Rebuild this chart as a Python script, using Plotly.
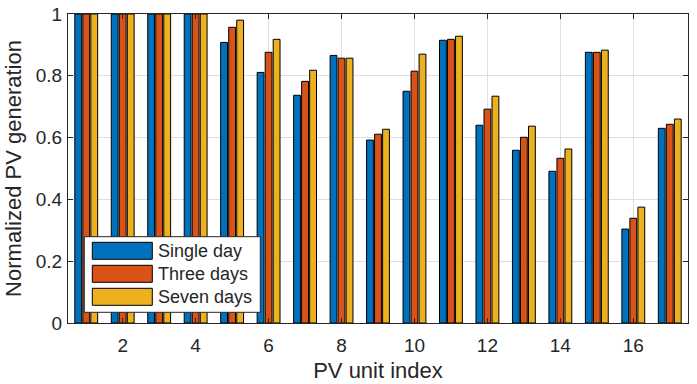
import plotly.graph_objects as go

units = list(range(1, 18))
single_day = [1.0, 1.0, 1.0, 1.0, 0.908, 0.811, 0.737, 0.866, 0.592, 0.750, 0.915, 0.640, 0.559, 0.491, 0.876, 0.304, 0.630]
three_days = [1.0, 1.0, 1.0, 1.0, 0.957, 0.876, 0.782, 0.857, 0.611, 0.815, 0.918, 0.692, 0.601, 0.533, 0.876, 0.339, 0.643]
seven_days = [1.0, 1.0, 1.0, 1.0, 0.980, 0.918, 0.818, 0.857, 0.627, 0.870, 0.928, 0.734, 0.637, 0.563, 0.883, 0.375, 0.660]
series_names = ["Single day", "Three days", "Seven days"]
colors = ["#0072BD", "#D95319", "#EDB120"]
x_ticks = [2, 4, 6, 8, 10, 12, 14, 16]
y_ticks = [0, 0.2, 0.4, 0.6, 0.8, 1]

W, H = 697, 384
L, R, T, B = 68, 9, 14, 61
pw, ph = W - L - R, H - T - B

def px(x):
    return (x - L) / pw

def py(y):
    return (H - B - y) / ph

FONT = "Liberation Sans, Arial, Helvetica, sans-serif"
fig = go.Figure()
for name, vals, c in zip(series_names, [single_day, three_days, seven_days], colors):
    fig.add_trace(go.Bar(x=units, y=vals, name=name, marker=dict(color=c, line=dict(color="black", width=1)),
                         showlegend=False))

axis_common = dict(showline=True, linecolor="#262626", linewidth=1, mirror="ticks", ticks="inside",
                   ticklen=5, tickcolor="#262626", showgrid=True, gridcolor="#dfdfdf", gridwidth=1,
                   zeroline=False, automargin=False, tickfont=dict(size=19, color="#262626", family=FONT))
fig.update_layout(
    width=W, height=H, margin=dict(l=L, r=R, t=T, b=B, pad=0),
    paper_bgcolor="white", plot_bgcolor="white",
    barmode="group", bargap=0.34, bargroupgap=0.15,
    font=dict(family=FONT, color="#262626"),
    xaxis=dict(range=[0.5, 17.5], tickvals=x_ticks, ticklabelstandoff=5,
               title=dict(text="PV unit index", font=dict(size=22), standoff=7), **axis_common),
    yaxis=dict(range=[0, 1], tickvals=y_ticks, ticktext=["0", "0.2", "0.4", "0.6", "0.8", "1"], ticklabelstandoff=1,
               title=dict(text="Normalized PV generation", font=dict(size=22), standoff=8), **axis_common),
)

# manual legend with wide swatches (MATLAB style)
shapes = [dict(type="rect", xref="paper", yref="paper", x0=px(84.3), x1=px(260.3), y0=py(312.3), y1=py(236.7),
               fillcolor="white", line=dict(color="#262626", width=1), layer="above")]
annots = []
sw_tops = [242.3, 265.3, 288.3]
for name, c, top in zip(series_names, colors, sw_tops):
    shapes.append(dict(type="rect", xref="paper", yref="paper", x0=px(92.3), x1=px(152.3), y0=py(top + 17), y1=py(top),
                       fillcolor=c, line=dict(color="black", width=1), layer="above"))
    annots.append(dict(xref="paper", yref="paper", x=px(156), y=py(top + 8.5), text=name, showarrow=False,
                       xanchor="left", yanchor="middle", font=dict(size=18, color="#262626", family=FONT)))
fig.update_layout(shapes=shapes, annotations=annots)
fig.write_html("out.html", post_script="document.body.style.margin='0';", config={"displayModeBar": False})
